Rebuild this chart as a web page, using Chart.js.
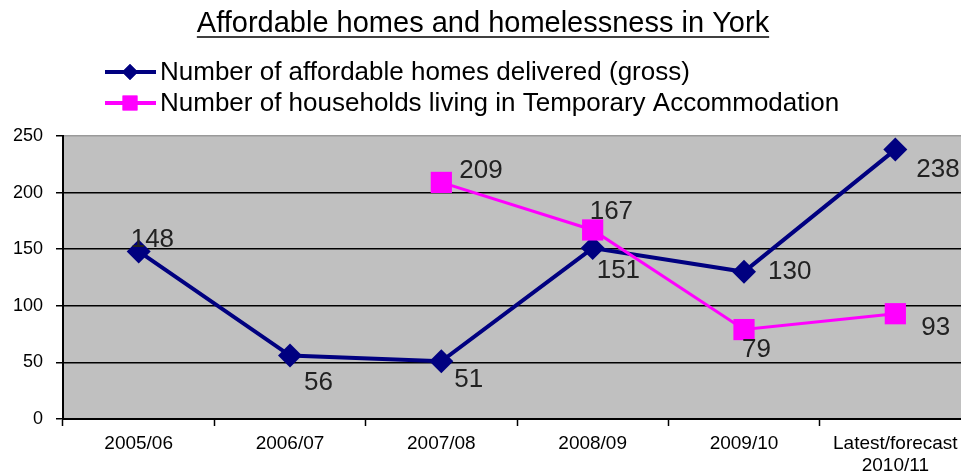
<!DOCTYPE html>
<html>
<head>
<meta charset="utf-8">
<script src="https://cdn.jsdelivr.net/npm/chart.js@4"></script>
<style>
  html, body { margin: 0; padding: 0; background: #fff; overflow: hidden; }
  #wrap { position: relative; width: 972px; height: 472px; }
  canvas { display: block; }
</style>
</head>
<body>
<div id="wrap"><canvas id="c" width="972" height="472" style="width:972px;height:472px"></canvas></div>
<script>
// ---- data ----
const categories = ['2005/06', '2006/07', '2007/08', '2008/09', '2009/10', ['Latest/forecast', '2010/11']];
const affordableHomes = [148, 56, 51, 151, 130, 238];
const temporaryAccommodation = [null, null, 209, 167, 79, 93];
const seriesNames = ['Number of affordable homes delivered (gross)', 'Number of households living in Temporary Accommodation'];
const chartTitle = 'Affordable homes and homelessness in York';
const yTicks = [0, 50, 100, 150, 200, 250];

// ---- label placement offsets (style only) ----
const labelOffsets = [
  [[-8, -12], [14, 27], [13, 19], [4, 23], [24, 0], [21, 20]],
  [null, null, [18, -12], [-3, -18], [-2, 20], [26, 14]]
];

const FONT = "'Liberation Sans', Arial, sans-serif";
const BLUE = '#000080';
const PINK = '#FF00FF';

const bgPlugin = {
  id: 'plotBg',
  beforeDraw(chart) {
    const {ctx, chartArea: a} = chart;
    ctx.save();
    ctx.fillStyle = '#C0C0C0';
    ctx.fillRect(a.left, a.top, a.right - a.left, a.bottom - a.top);
    ctx.restore();
  }
};

const labelsPlugin = {
  id: 'valueLabels',
  afterDatasetsDraw(chart) {
    const ctx = chart.ctx;
    ctx.save();
    ctx.font = '26px ' + FONT;
    ctx.fillStyle = '#222';
    ctx.textAlign = 'left';
    ctx.textBaseline = 'middle';
    chart.data.datasets.forEach((ds, di) => {
      const meta = chart.getDatasetMeta(di);
      meta.data.forEach((pt, i) => {
        const v = ds.data[i];
        const off = labelOffsets[di][i];
        if (v == null || !off) return;
        ctx.fillText(String(v), pt.x + off[0], pt.y + off[1]);
      });
    });
    ctx.restore();
  }
};

const headerPlugin = {
  id: 'header',
  afterDraw(chart) {
    const ctx = chart.ctx;
    ctx.save();
    // title
    ctx.font = '29px ' + FONT;
    ctx.fillStyle = '#000';
    ctx.textAlign = 'center';
    ctx.textBaseline = 'alphabetic';
    const cx = 483, base = 32;
    ctx.fillText(chartTitle, cx, base);
    const w = ctx.measureText(chartTitle).width;
    ctx.strokeStyle = '#000';
    ctx.lineWidth = 1.5;
    ctx.beginPath();
    ctx.moveTo(cx - w / 2, base + 5);
    ctx.lineTo(cx + w / 2, base + 5);
    ctx.stroke();
    // legend
    const rows = [
      {y: 72, color: BLUE, style: 'rectRot', r: 8},
      {y: 103, color: PINK, style: 'rect', r: 10.5}
    ];
    rows.forEach((row, i) => {
      ctx.strokeStyle = row.color;
      ctx.lineWidth = 4;
      ctx.beginPath();
      ctx.moveTo(105, row.y);
      ctx.lineTo(156, row.y);
      ctx.stroke();
      ctx.fillStyle = row.color;
      Chart.helpers.drawPoint(ctx, {pointStyle: row.style, radius: row.r, borderWidth: 0}, 130, row.y);
      ctx.fill();
      ctx.fillStyle = '#000';
      ctx.font = '26px ' + FONT;
      ctx.textAlign = 'left';
      ctx.textBaseline = 'middle';
      ctx.fillText(seriesNames[i], 160, row.y + 1);
    });
    ctx.restore();
  }
};

new Chart(document.getElementById('c'), {
  type: 'line',
  data: {
    labels: categories,
    datasets: [
      {
        label: seriesNames[0],
        data: affordableHomes,
        borderColor: BLUE,
        backgroundColor: BLUE,
        borderWidth: 4,
        pointStyle: 'rectRot',
        pointRadius: 12,
        pointBorderWidth: 0,
        pointBackgroundColor: BLUE,
        tension: 0,
        order: 1
      },
      {
        label: seriesNames[1],
        data: temporaryAccommodation,
        borderColor: PINK,
        backgroundColor: PINK,
        borderWidth: 3,
        pointStyle: 'rect',
        pointRadius: 15,
        pointBorderWidth: 0,
        pointBackgroundColor: PINK,
        tension: 0,
        order: 0
      }
    ]
  },
  options: {
    responsive: false,
    animation: false,
    devicePixelRatio: 1,
    layout: { autoPadding: false, padding: { top: 136, left: 0, right: 1, bottom: 0 } },
    plugins: {
      legend: { display: false },
      title: { display: false },
      tooltip: { enabled: false }
    },
    scales: {
      x: {
        type: 'category',
        offset: true,
        grid: {
          offset: true,
          drawOnChartArea: false,
          drawTicks: true,
          tickLength: 7,
          tickColor: '#000',
          tickWidth: 1.5
        },
        border: { display: true, color: '#000', width: 2 },
        ticks: {
          color: '#000',
          font: { family: FONT, size: 19 },
          padding: 6,
          maxRotation: 0,
          autoSkip: false
        },
        afterFit(s) { s.height = 53; s.paddingLeft = 0; s.paddingRight = 0; }
      },
      y: {
        min: 0,
        max: 250,
        afterBuildTicks(s) { s.ticks = yTicks.map(v => ({value: v})); },
        grid: {
          color: (c) => (c.tick && c.tick.value === 250) ? '#9a9a9a' : '#000',
          lineWidth: 1.5,
          drawTicks: true,
          tickLength: 7,
          tickColor: '#000',
          tickWidth: 1.5
        },
        border: { display: true, color: '#000', width: 2 },
        ticks: {
          color: '#000',
          font: { family: FONT, size: 18 },
          padding: 13
        },
        afterFit(s) { s.width = 63; s.paddingTop = 0; s.paddingBottom = 0; }
      }
    }
  },
  plugins: [bgPlugin, labelsPlugin, headerPlugin]
});
</script>
</body>
</html>
